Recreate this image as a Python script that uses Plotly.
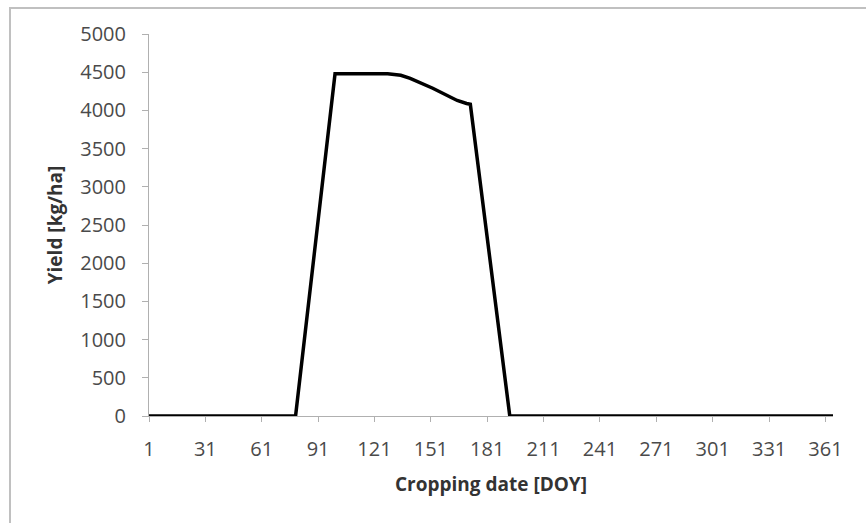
import plotly.graph_objects as go

days = [1, 79, 100, 128, 135, 140, 152, 165, 170, 172, 193, 365]
yield_kg_ha = [0, 0, 4480, 4480, 4460, 4420, 4290, 4130, 4090, 4080, 0, 0]
x_ticks = list(range(1, 362, 30))
y_ticks = list(range(0, 5001, 500))

W, H = 866, 523
L, R, T, B = 149, 33, 34, 107
pw, ph = W - L - R, H - T - B

fig = go.Figure()
fig.add_trace(go.Scatter(x=days, y=yield_kg_ha, mode="lines",
                         line=dict(color="black", width=3.5), cliponaxis=False))

font = "Open Sans"
fig.update_layout(
    width=W, height=H,
    margin=dict(l=L, r=R, t=T, b=B),
    paper_bgcolor="white", plot_bgcolor="white",
    showlegend=False,
    font=dict(family=font, color="#404040"),
    xaxis=dict(range=[1, 365], tickvals=x_ticks, ticktext=[str(v) for v in x_ticks],
               showgrid=False, zeroline=False, showline=True, linecolor="#b0b0b0", linewidth=1,
               ticks="outside", ticklen=5, tickcolor="#b0b0b0",
               tickfont=dict(size=20, color="#4a4a4a"), ticklabelstandoff=10,
               title=dict(text="<b>Cropping date [DOY]</b>", font=dict(size=19, color="#333333"), standoff=16)),
    yaxis=dict(range=[0, 5000], tickvals=y_ticks,
               showgrid=False, zeroline=False, showline=True, linecolor="#b0b0b0", linewidth=1,
               ticks="outside", ticklen=6, tickcolor="#b0b0b0",
               tickfont=dict(size=20, color="#4a4a4a"), ticklabelstandoff=12,
               title=dict(text="<b>Yield [kg/ha]</b>", font=dict(size=19, color="#333333"), standoff=12)),
)

fig.add_shape(type="rect", xref="paper", yref="paper",
              x0=(10 - L) / pw, x1=(W + 20 - L) / pw,
              y0=(H - B - 8) / ph, y1=(H - B - (H + 20)) / ph,
              line=dict(color="#c0c0c0", width=2), fillcolor="rgba(0,0,0,0)", layer="below")

fig.write_html("out.html")
